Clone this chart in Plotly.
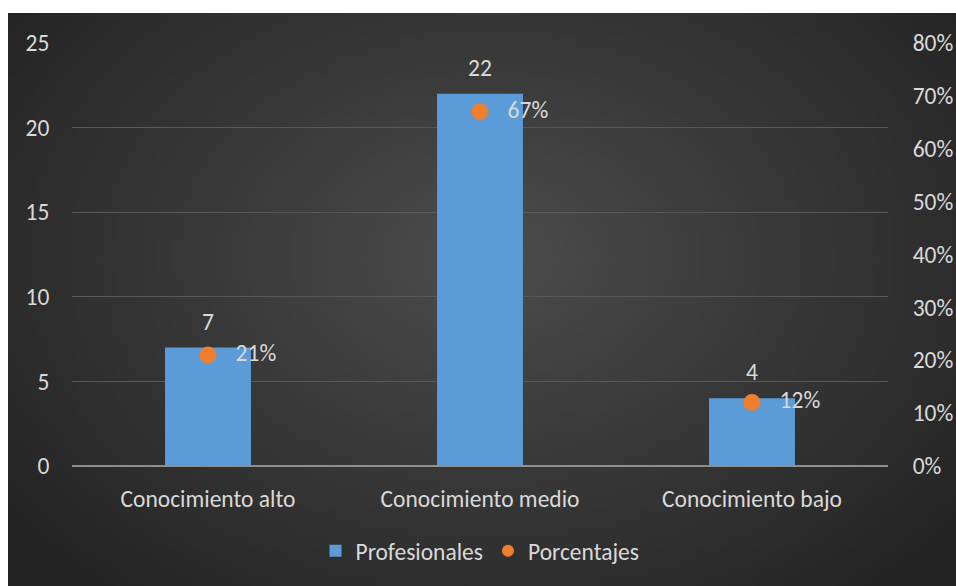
import base64, struct, zlib
import plotly.graph_objects as go

categories = ["Conocimiento alto", "Conocimiento medio", "Conocimiento bajo"]
profesionales = [7, 22, 4]
porcentajes = [0.21, 0.67, 0.12]
left_ticks = [0, 5, 10, 15, 20, 25]
right_ticks = [0, 0.1, 0.2, 0.3, 0.4, 0.5, 0.6, 0.7, 0.8]
right_tick_labels = ["0%", "10%", "20%", "30%", "40%", "50%", "60%", "70%", "80%"]


def make_png(w, h):
    rows = []
    cx, cy = w * 0.5, h * 0.42
    for j in range(h):
        row = bytearray([0])
        for i in range(w):
            dx = (i - cx) / (w * 0.62)
            dy = (j - cy) / (h * 0.75)
            d = min(1.0, (dx * dx + dy * dy) ** 0.5)
            v = int(round(76 - (76 - 36) * d))
            row += bytes([v, v, v])
        rows.append(bytes(row))
    raw = b"".join(rows)

    def chunk(t, data):
        c = struct.pack(">I", len(data)) + t + data
        return c + struct.pack(">I", zlib.crc32(t + data) & 0xffffffff)

    png = b"\x89PNG\r\n\x1a\n"
    png += chunk(b"IHDR", struct.pack(">IIBBBBB", w, h, 8, 2, 0, 0, 0))
    png += chunk(b"IDAT", zlib.compress(raw, 9))
    png += chunk(b"IEND", b"")
    return "data:image/png;base64," + base64.b64encode(png).decode()


bg = make_png(190, 115)

FONT = "Carlito, Calibri, Lato, sans-serif"
TXT = "#d9d9d9"
FS = 23.5

fig = go.Figure()
fig.add_trace(go.Bar(
    x=categories, y=profesionales, name="Profesionales",
    marker=dict(color="#5b9bd8", line=dict(width=0)),
    yaxis="y",
))
fig.add_trace(go.Scatter(
    x=categories, y=porcentajes, name="Porcentajes",
    mode="markers+text",
    marker=dict(color="#f07f2d", size=17),
    text=["   " + f"{round(p*100)}%" for p in porcentajes],
    textposition="middle right",
    textfont=dict(color=TXT, size=FS, family=FONT),
    yaxis="y2",
))

for c, v in zip(categories, profesionales):
    fig.add_annotation(x=c, y=v, xref="x", yref="y", text=str(v),
                       showarrow=False, yanchor="bottom", yshift=10,
                       font=dict(color=TXT, size=FS, family=FONT))

W, H = 956, 586
L, R, T, B = 72, 68, 43, 120
pw, ph = W - L - R, H - T - B

fig.add_layout_image(dict(
    source=bg, xref="paper", yref="paper",
    x=(8 - L) / pw, y=(H - B - 13) / ph,
    sizex=(W - 8) / pw + 0.01, sizey=(H - 13) / ph + 0.01,
    xanchor="left", yanchor="top", sizing="stretch", layer="below",
))

fig.update_layout(
    width=W, height=H,
    margin=dict(l=L, r=R, t=T, b=B, autoexpand=False),
    paper_bgcolor="white",
    plot_bgcolor="rgba(0,0,0,0)",
    bargap=0.684,
    font=dict(family=FONT, color=TXT, size=FS),
    showlegend=True,
    legend=dict(orientation="h", x=0.5, xanchor="center", y=(H - B - 551) / ph,
                yanchor="middle", font=dict(size=FS, color=TXT),
                bgcolor="rgba(0,0,0,0)", itemsizing="constant", itemwidth=30),
    xaxis=dict(showgrid=False, ticks="outside", ticklen=12, tickcolor="rgba(0,0,0,0)",
               showline=False, tickfont=dict(size=FS, color=TXT), zeroline=False,
               automargin=False),
    yaxis=dict(range=[0, 25], tickvals=left_ticks, showgrid=True, gridcolor="#585858",
               gridwidth=1, zeroline=True, zerolinecolor="#8e8e8e", zerolinewidth=2,
               ticks="outside", ticklen=17, tickcolor="rgba(0,0,0,0)",
               tickfont=dict(size=FS, color=TXT), automargin=False),
    yaxis2=dict(range=[0, 0.8], tickvals=right_ticks, ticktext=right_tick_labels,
                overlaying="y", side="right", showgrid=False, zeroline=False,
                ticks="outside", ticklen=19, tickcolor="rgba(0,0,0,0)",
                tickfont=dict(size=FS, color=TXT), automargin=False),
)

fig.write_html("out.html")
